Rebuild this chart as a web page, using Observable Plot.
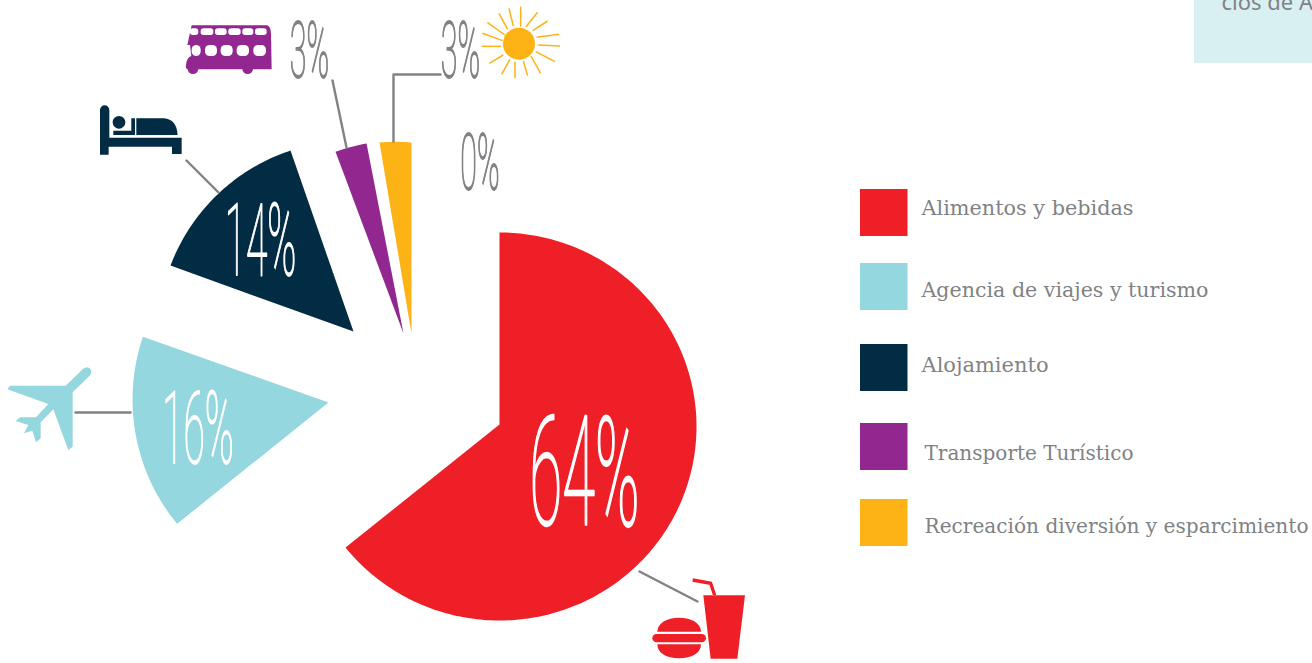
<!DOCTYPE html>
<html><head><meta charset="utf-8">
<script src="https://cdn.jsdelivr.net/npm/d3@7"></script>
<script src="https://cdn.jsdelivr.net/npm/@observablehq/plot@0.6"></script>
<style>html,body{margin:0;padding:0;background:#fff;overflow:hidden}svg{display:block}</style>
</head><body><div id="chart"></div>
<script>
const categories = ["Alimentos y bebidas","Agencia de viajes y turismo","Alojamiento","Transporte Turístico","Recreación diversión y esparcimiento"];
const values = [64,16,14,3,3];
const colors = ["#ee1f26","#94d7df","#022b44","#92278f","#fdb316"];
const GRAY = "#808285";

// exploded-pie layout: where each wedge's tip sits, its arc centre/radii, small hand-drawn irregularities
const tipX = [499,328,353,403,411];
const tipY = [424,402,331,333,333];
const arcX = [499,328,353,403,411];
const arcY = [426,402,331,333,333];
const radX = [197,194,194.5,194,193.7];
const radY = [194,194,194.5,194,193.7];
const tail = [1,1.015,0.985,0.998,0.986];
const turnStart = [0,0.9,1.8,1.1,1.3];
const turnEnd = [1,1.5,2.4,-0.2,0];

const ends = Array.from(d3.cumsum(values));
const slicePoints = categories.flatMap((category,i)=>{
  const a0 = (i?ends[i-1]:0)*3.6 + turnStart[i], a1 = ends[i]*3.6 + turnEnd[i];
  const pts = [{category,x:tipX[i],y:tipY[i]}];
  const n = Math.ceil(a1-a0);
  for(let k=0;k<=n;k++){
    const a=(a0+(a1-a0)*k/n)*Math.PI/180, m=1+(tail[i]-1)*k/n;
    pts.push({category,x:arcX[i]+m*radX[i]*Math.sin(a),y:arcY[i]-m*radY[i]*Math.cos(a)});
  }
  pts.push(pts[0]);
  return pts;
});

// legend
const legendTop = [189,263,344,423,499];
const legendTextY = [208,290,365,453,526];
const legendTextX = [921,921,921,924,924];
const legendTextW = [212,287,127,209,384];
const legendRows = categories.map((category,i)=>({category,y:legendTop[i],ty:legendTextY[i],tx:legendTextX[i]}));

// percentage labels
const pctLabels = ["64%","16%","14%","3%","3%","0%"];
const pctX = [584,197.5,260,309,460,479.5];
const pctY = [476,430,242,52,52,164];
const pctSize = [153,100,100,78,78,78];
const pctFill = ["#fff","#fff","#fff",GRAY,GRAY,GRAY];
const pctStroke = [2.6,1.8,1.8,1.8,1.8,1.8];
const pctRows = pctLabels.map((t,i)=>({t,x:pctX[i],y:pctY[i],s:pctSize[i],f:pctFill[i]}));

// leader lines
const leaders = [
  [[75,412],[130,412]],
  [[186,160],[218,192]],
  [[332,80],[346,147]],
  [[440,74],[393,74],[393,141]],
  [[639,571],[697,601]]
].flatMap((l,id)=>l.map(([x,y])=>({id,x,y})));

const sunRays = [[1052,20,1052,80],[1103,37,1068,80],[1133,63,1088,92],[1167,103,1100,112],[1170,138,1105,135],[1155,185,1098,155],[1112,220,1083,168],[1073,227,1060,183],[1035,235,1035,185],[995,223,1020,178],[958,190,1000,165],[935,139,993,139],[937,100,998,122],[952,67,1005,105],[987,40,1013,88],[1017,25,1030,78]];

function icons(){
  const g = d3.create("svg:g");
  const add=(tr,fill)=>g.append("g").attr("transform",tr).attr("fill",fill);
  // bus
  const b=add("translate(170,0) scale(0.3333)",colors[3]);
  b.append("path").attr("d","M65,76 L292,76 Q302,80 303,100 L305,208 L52,208 Q46,205 48,195 Q50,172 64,168 L60,135 L52,135 Z");
  b.append("circle").attr("cx",69).attr("cy",206).attr("r",16);
  b.append("circle").attr("cx",233).attr("cy",206).attr("r",16);
  [[60,85,25,20],[92,85,38,20],[135,85,35,20],[175,85,37,20],[217,85,33,20],[255,85,35,20],[65,135,27,33],[105,135,36,33],[152,135,36,33],[200,135,37,33],[250,135,38,33]].forEach(([x,y,w,h])=>
    b.append("rect").attr("x",x).attr("y",y).attr("width",w).attr("height",h).attr("rx",h/2.4).attr("fill","#fff"));
  // bed
  const d=add("translate(0,90) scale(0.3333)",colors[2]);
  d.append("path").attr("d","M300,194 L300,60 A14,14 0 0 1 328,60 L328,143 L545,143 L545,192 L516,192 L516,170 L326,170 L326,194 Z");
  d.append("circle").attr("cx",357).attr("cy",97).attr("r",19);
  d.append("path").attr("d","M340,122 L394,122 L394,85 L405,85 L405,135 L340,135 Z");
  d.append("path").attr("d","M409,85 L492,85 Q530,88 533,135 L409,135 Z");
  // plane
  const p=add("translate(0,90) scale(0.3333)",colors[1]);
  p.append("path").attr("d","M22,898 L30,887 L197,887 L248,838 Q262,826 272,838 Q278,848 268,858 L218,907 L218,1070 L205,1080 L160,958 L122,997 L122,1045 L108,1057 L97,1022 L72,1030 L85,1005 L47,993 L60,982 L108,982 L145,942 Z");
  // burger + drink
  const f=add("translate(620,560) scale(0.3333)",colors[0]);
  f.append("path").attr("d","M250,106 L375,106 L352,296 L272,296 Z");
  f.append("path").attr("d","M218,60 L272,70 L284,106").attr("fill","none").attr("stroke",colors[0]).attr("stroke-width",10);
  f.append("path").attr("d","M112,215 C112,190 140,173 177,173 C215,173 243,190 243,215 Z");
  f.append("rect").attr("x",97).attr("y",222).attr("width",161).attr("height",25).attr("rx",12.5);
  f.append("path").attr("d","M112,253 L243,253 C243,280 215,295 177,295 C140,295 112,280 112,253 Z");
  // sun
  const s=add("translate(170,0) scale(0.3333)",colors[4]);
  s.append("circle").attr("cx",1047).attr("cy",131).attr("r",48);
  sunRays.forEach(([a,b2,c,e])=>s.append("line").attr("x1",a).attr("y1",b2).attr("x2",c).attr("y2",e).attr("stroke",colors[4]).attr("stroke-width",4.5));
  return g.node();
}

const plot = Plot.plot({
  width:1312,height:663,margin:0,
  x:{domain:[0,1312],range:[0,1312],axis:null},
  y:{domain:[0,663],range:[0,663],axis:null},
  color:{domain:categories,range:colors},
  marks:[
    Plot.rect([{x1:1194,x2:1320,y1:-5,y2:63}],{x1:"x1",x2:"x2",y1:"y1",y2:"y2",fill:"#d9f0f2"}),
    Plot.text(["cios de A"],{x:1221,y:2,text:d=>d,textAnchor:"start",fontFamily:"Noto Sans",fontSize:22,fill:GRAY}),
    Plot.line(slicePoints,{x:"x",y:"y",z:"category",fill:"category",stroke:"none",curve:"linear"}),
    Plot.line(leaders,{x:"x",y:"y",z:"id",stroke:GRAY,strokeWidth:2.4}),
    icons,
    Plot.rect(legendRows,{x1:()=>860,x2:()=>907.5,y1:"y",y2:d=>d.y+47,fill:"category"}),
    Plot.text(legendRows,{x:"tx",y:"ty",text:"category",textAnchor:"start",fontFamily:"DejaVu Serif Condensed",fontSize:21,fill:"#808285",className:"legend-txt"}),
    Plot.text(pctRows,{x:"x",y:"y",text:"t",fontSize:"s",fill:"f",stroke:"f",strokeWidth:0,fontFamily:"Roboto",fontWeight:100,className:"pct"})
  ]
});
const sel=d3.select(plot);
sel.selectAll("g.pct text").each(function(d,i){
  const t=d3.select(this);
  t.attr("transform",(t.attr("transform")||"")+" scale(0.39,1)");
  t.attr("stroke-width",pctStroke[i]).attr("paint-order","stroke");
});
sel.selectAll("g.legend-txt text").each(function(d,i){
  d3.select(this).attr("textLength",legendTextW[i]).attr("lengthAdjust","spacingAndGlyphs");
});
document.getElementById("chart").appendChild(plot);
</script></body></html>
